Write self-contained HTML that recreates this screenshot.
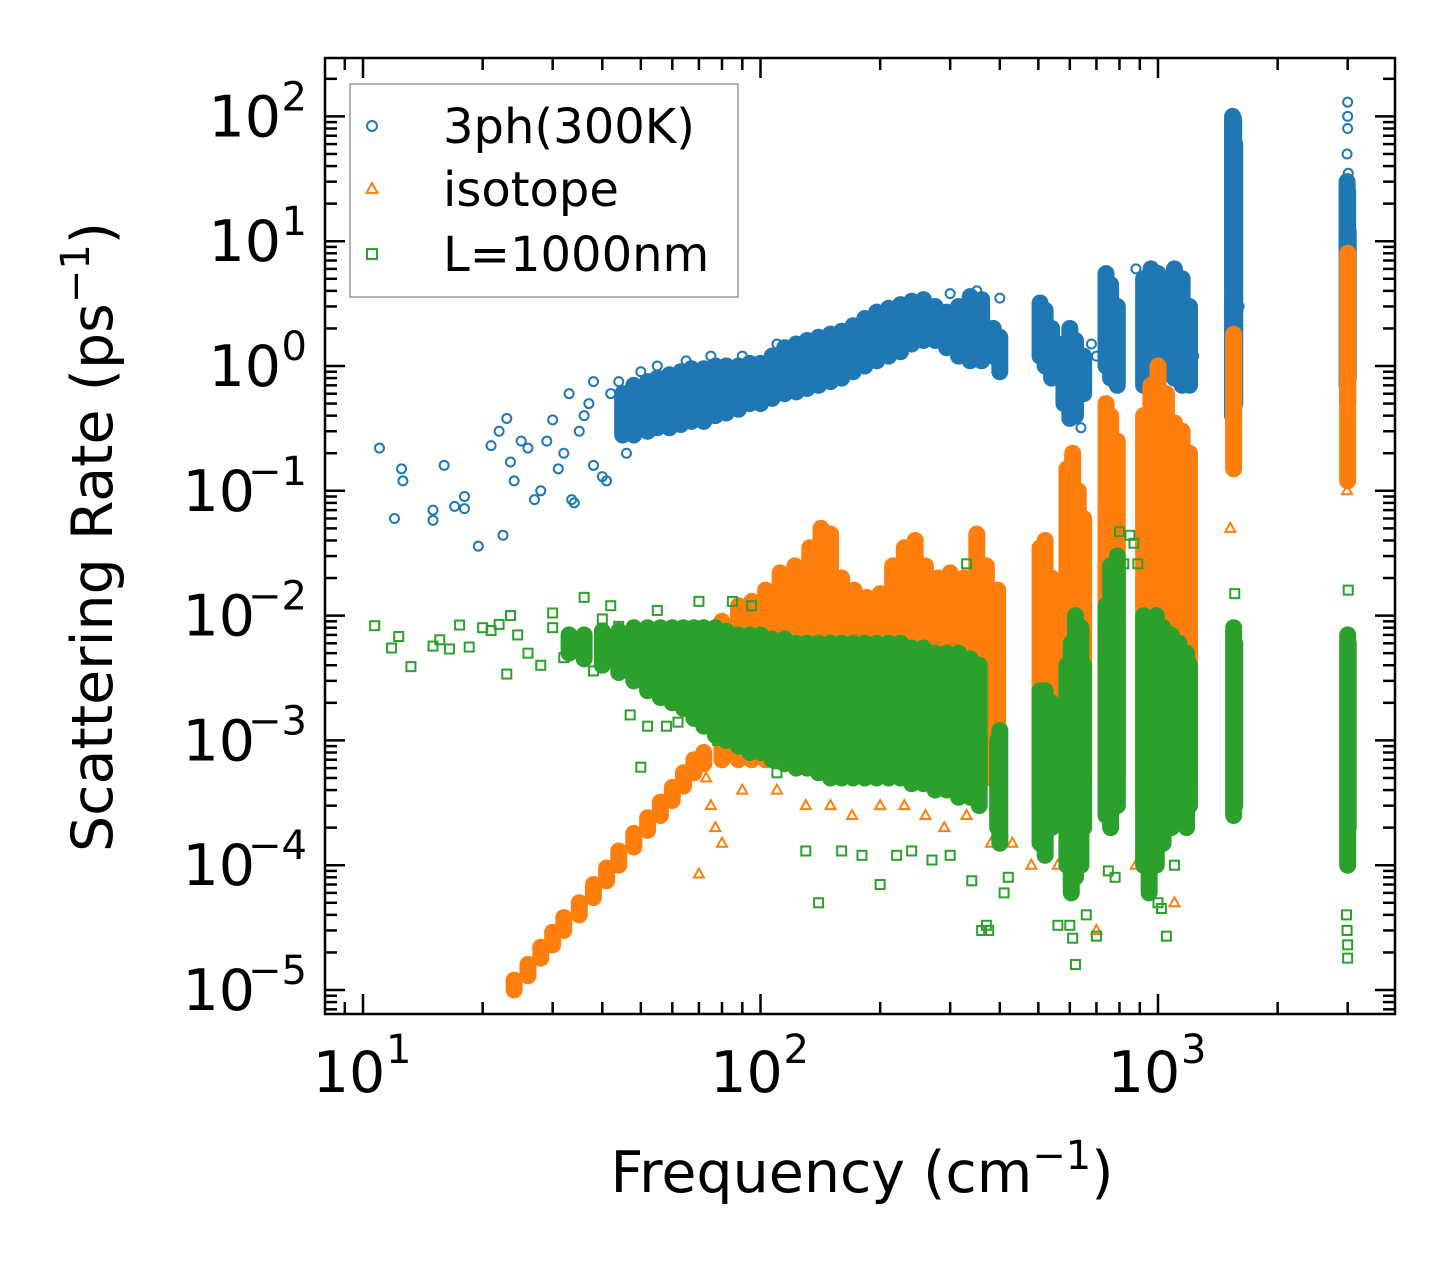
<!DOCTYPE html>
<html><head><meta charset="utf-8"><style>
body{margin:0;background:#fff}
svg text{font-family:"DejaVu Sans","Liberation Sans",sans-serif;fill:#000}
</style></head><body>
<svg id="chart" width="1455" height="1265" viewBox="0 0 1455 1265" xmlns="http://www.w3.org/2000/svg">
<g id="plot"></g>
<g id="axes"></g>
</svg>
<script>
// ---- data (frequency cm^-1, rate ps^-1) ----
const xTickLabels=["10","10","10"];
const xTickExps=["1","2","3"];
const yTickExps=["2","1","0","\u22121","\u22122","\u22123","\u22124","\u22125"];
// dense regions: freq, low rate, high rate
const blueBandF=[45,48,52,55,59,63,67,72,77,82,88,94,100,107,115,123,131,140,150,160,171,183,196,210,225,240,257,275,294,315,337,360,385,400,505,520,540,580,600,620,650,740,760,790,920,960,1000,1050,1100,1150,1200,1540,1550,1560,2990,3000,3010];
const blueBandLo=[0.28,0.28,0.3,0.32,0.32,0.34,0.36,0.36,0.4,0.42,0.45,0.5,0.5,0.55,0.6,0.62,0.66,0.7,0.75,0.8,0.9,1.0,1.1,1.2,1.3,1.5,1.6,1.6,1.4,1.2,1.1,1.1,1.2,0.9,1.2,1.0,0.8,0.5,0.38,0.4,0.6,1.0,0.8,0.7,0.7,0.6,0.7,0.9,0.8,0.7,0.7,0.4,0.35,0.5,0.7,0.5,0.8];
const blueBandHi=[0.6,0.7,0.75,0.8,0.85,0.9,0.95,0.95,1.0,1.0,1.0,1.05,1.05,1.2,1.4,1.5,1.6,1.7,1.8,1.9,2.1,2.4,2.7,2.9,3.1,3.3,3.4,3.0,2.7,3.0,3.6,3.4,2.0,1.7,3.2,2.8,2.0,1.5,2.0,1.6,1.2,5.5,4.5,3.0,5.0,6.0,5.5,4.0,6.0,5.0,3.0,100,95,60,30,25,12];
const blueF=[11,12,12.5,12.6,15,15,16,17,18,18,19.5,21,22,22.5,23,23.5,24,25,26,27,28,29,30,31,32,33,33.5,34,35,36,37,38,40,42,44,46,38,41,50,55,65,75,90,110,130,180,230,300,350,400,560,640,680,700,880,1230,1520,1600,3000,3000,3000,2990,3010];
const blueR=[0.22,0.06,0.15,0.12,0.07,0.058,0.16,0.075,0.09,0.072,0.036,0.23,0.3,0.044,0.38,0.17,0.12,0.25,0.22,0.085,0.1,0.25,0.37,0.15,0.2,0.6,0.085,0.08,0.3,0.4,0.5,0.75,0.13,0.6,0.75,0.2,0.16,0.12,0.9,1.0,1.1,1.2,1.2,1.5,1.6,2.2,3.0,3.8,4.0,3.5,1.0,0.32,1.5,1.2,6.0,1.2,3.8,3.0,130,100,80,50,35];
const orangeBandF=[24,26,28,30,32,35,38,41,44,48,52,56,60,64,68,72,80,88,95,103,112,122,133,142,150,160,172,185,200,215,230,245,260,280,300,325,350,370,395,505,520,540,590,610,630,650,740,760,790,920,960,1000,1050,1100,1150,1200,1550,3000];
const orangeBandLo=[1.0e-5,1.3e-5,1.8e-5,2.3e-5,3e-5,4e-5,5.5e-5,7.5e-5,1e-4,1.4e-4,1.9e-4,2.5e-4,3.3e-4,4.3e-4,5.5e-4,6.5e-4,7e-4,7e-4,7e-4,7e-4,7e-4,7e-4,7e-4,7e-4,7e-4,7e-4,7e-4,7e-4,7e-4,7e-4,6e-4,6e-4,6e-4,5e-4,5e-4,5e-4,5e-4,5e-4,5e-4,3e-4,3e-4,3e-4,3e-4,2e-4,3e-4,5e-4,5e-4,4e-4,5e-4,3e-4,2e-4,3e-4,3e-4,4e-4,4e-4,5e-4,0.15,0.12];
const orangeBandHi=[1.2e-5,1.6e-5,2.2e-5,2.9e-5,3.8e-5,5e-5,7e-5,9.5e-5,1.3e-4,1.8e-4,2.4e-4,3.2e-4,4.2e-4,5.5e-4,7e-4,8e-4,9e-3,1.2e-2,1.3e-2,1.6e-2,2.2e-2,2.5e-2,3.5e-2,5e-2,4.5e-2,2.0e-2,1.6e-2,1.4e-2,1.5e-2,2.5e-2,3.5e-2,4.0e-2,2.5e-2,2.0e-2,2.2e-2,2.0e-2,4.5e-2,2.5e-2,1.6e-2,3.5e-2,4e-2,2e-2,0.15,0.2,0.1,0.06,0.5,0.4,0.25,0.4,0.7,1.0,0.6,0.35,0.3,0.2,1.8,8];
const orangeF=[73,75,77,80,70,90,110,130,150,170,200,230,260,290,330,380,430,480,560,700,880,1100,1200,1520,2990,3000];
const orangeR=[5e-4,3e-4,2e-4,1.5e-4,8.5e-5,4e-4,4e-4,3e-4,3e-4,2.5e-4,3e-4,3e-4,2.5e-4,2e-4,2.5e-4,1.5e-4,1.5e-4,1e-4,1e-4,3e-5,1e-4,5e-5,1.1e-1,5e-2,1.0e-1,0.25];
const greenBandF=[33,36,40,44,48,52,56,60,64,68,72,77,82,88,94,100,107,115,123,131,140,150,160,171,183,196,210,225,240,257,275,294,315,337,355,395,400,505,520,540,590,605,620,640,650,740,760,790,920,950,990,1030,1080,1130,1180,1200,1550,1560,3000,3010];
const greenBandLo=[5e-3,4.5e-3,4e-3,3.5e-3,3e-3,2.5e-3,2.2e-3,2e-3,1.8e-3,1.5e-3,1.3e-3,1.1e-3,1e-3,9e-4,8e-4,8e-4,7e-4,6.5e-4,6e-4,6e-4,5.5e-4,5e-4,5e-4,5e-4,5e-4,5e-4,5e-4,5e-4,4.5e-4,4.5e-4,4e-4,4e-4,3.5e-4,3.5e-4,3e-4,2e-4,1.5e-4,1.5e-4,1.2e-4,2e-4,1e-4,6e-5,8e-5,1e-4,2e-4,2.5e-4,2e-4,3e-4,1e-4,6e-5,1e-4,1.5e-4,2e-4,3e-4,2e-4,3e-4,2.5e-4,3e-4,1e-4,2e-4];
const greenBandHi=[7e-3,7e-3,7.5e-3,7.5e-3,8e-3,8e-3,8e-3,8e-3,8e-3,8e-3,8e-3,8e-3,7.5e-3,7e-3,7e-3,7e-3,6.5e-3,6.5e-3,6e-3,6e-3,6e-3,6e-3,6e-3,6e-3,6e-3,6e-3,6e-3,6e-3,5.5e-3,5.5e-3,5e-3,5e-3,5e-3,4.5e-3,4e-3,1e-3,1.2e-3,2.5e-3,2.5e-3,2e-3,4e-3,6e-3,1e-2,8e-3,4e-3,1.2e-2,2.5e-2,3e-2,1e-2,8e-3,1e-2,8e-3,7e-3,6e-3,5e-3,4e-3,8e-3,6e-3,7e-3,6e-3];
const greenF=[10.7,11.8,12.3,13.2,15,15.6,16.5,17.5,18.5,20,21,22,23,23.5,24.5,26,28,30,30,32,34,36,38,40,42,44,47,50,52,55,58,62,70,78,85,95,110,130,140,160,180,200,220,240,270,300,330,340,360,370,375,410,420,560,600,610,620,660,700,780,820,850,870,890,1000,1020,1050,1100,1560,2980,2990,3000,3000,3010,750,800];
const greenR=[8.3e-3,5.5e-3,6.8e-3,3.9e-3,5.7e-3,6.4e-3,5.4e-3,8.4e-3,5.6e-3,8e-3,7.6e-3,8.5e-3,3.4e-3,1e-2,7e-3,5e-3,4e-3,1.05e-2,8e-3,4.6e-3,5.8e-3,1.4e-2,3.6e-3,9.4e-3,1.2e-2,8.2e-3,1.6e-3,6.1e-4,1.3e-3,1.1e-2,1.3e-3,1.4e-3,1.3e-2,1e-3,1.3e-2,1.2e-2,5.5e-4,1.3e-4,5e-5,1.3e-4,1.2e-4,7e-5,1.2e-4,1.3e-4,1.1e-4,1.2e-4,2.6e-2,7.5e-5,3e-5,3.3e-5,3e-5,6e-5,8e-5,3.3e-5,3.3e-5,2.6e-5,1.6e-5,4e-5,2.7e-5,8e-5,2.6e-2,4.4e-2,3.8e-2,2.6e-2,5e-5,4.5e-5,2.7e-5,1e-4,1.5e-2,4e-5,3e-5,2.3e-5,1.8e-5,1.6e-2,9e-5,4.7e-2];

// ---- axes geometry ----
const L=325,R=1395,T=58,B=1014;
const X0=363,XD=397.5; // px of 10^1, px per decade
const Y0=990,YD=124.8; // px of 10^-5
const xs=f=>X0+(Math.log10(f)-1)*XD;
const ys=v=>Y0-(Math.log10(v)+5)*YD;
const NS="http://www.w3.org/2000/svg";
const plot=document.getElementById('plot'),axes=document.getElementById('axes');
function mk(tag,attrs,parent){const e=document.createElementNS(NS,tag);for(const k in attrs)e.setAttribute(k,attrs[k]);parent.appendChild(e);return e;}
const C={b:'#1f77b4',o:'#ff7f0e',g:'#2ca02c'};
function marker(kind,x,y,col,par,s){
  s=s||1;let e;
  if(kind==='o'){e=mk('circle',{cx:x,cy:y,r:4.5*s,fill:'none',stroke:col,'stroke-width':2},par);}
  else if(kind==='^'){e=mk('polygon',{points:`${x},${y-5.5*s} ${x-5*s},${y+3.5*s} ${x+5*s},${y+3.5*s}`,fill:'none',stroke:col,'stroke-width':2},par);}
  else {e=mk('rect',{x:x-4.5*s,y:y-4.5*s,width:9*s,height:9*s,fill:'none',stroke:col,'stroke-width':2},par);}
  return e;
}
function series(name,kind,col,bf,blo,bhi,pf,pr){
  const g=mk('g',{},plot);
  
  
  for(let i=0;i<bf.length;i++){
    const x=xs(bf[i]);
    const ln=mk('line',{x1:x,x2:x,y1:ys(blo[i]),y2:ys(bhi[i]),stroke:col,'stroke-width':17,'stroke-linecap':'round'},g);
    
    
  }
  for(let i=0;i<pf.length;i++){
    const m=marker(kind,xs(pf[i]),ys(pr[i]),col,g);
    
    
  }
}
const clip=mk('clipPath',{id:'cp'},document.getElementById('chart'));
mk('rect',{x:L,y:T,width:R-L,height:B-T},clip);
plot.setAttribute('clip-path','url(#cp)');
series('3ph','o',C.b,blueBandF,blueBandLo,blueBandHi,blueF,blueR);
series('isotope','^',C.o,orangeBandF,orangeBandLo,orangeBandHi,orangeF,orangeR);
series('boundary','s',C.g,greenBandF,greenBandLo,greenBandHi,greenF,greenR);

// frame
const fr=mk('rect',{x:L,y:T,width:R-L,height:B-T,fill:'none',stroke:'#000','stroke-width':2.5},axes);


// x ticks
for(let d=0;d<=3;d++){
  for(let k=1;k<10;k++){
    const f=Math.pow(10,d)*k; if(f<8||f>4300)continue;
    const x=xs(f); if(x<L||x>R)continue;
    const len=k===1?20:12;
    mk('line',{x1:x,x2:x,y1:B,y2:B-len,stroke:'#000','stroke-width':2.5},axes);
    mk('line',{x1:x,x2:x,y1:T,y2:T+len,stroke:'#000','stroke-width':2.5},axes);
  }
}
for(let i=0;i<xTickLabels.length;i++){
  const x=xs(Math.pow(10,i+1));
  const t=mk('text',{x:x-14,y:1092,'font-size':57,'text-anchor':'middle'},axes);
  t.textContent=xTickLabels[i];
  
  
  const s=mk('text',{x:x+23,y:1063,'font-size':40},axes);s.textContent=xTickExps[i];
}
// y ticks
for(let d=-6;d<=2;d++){
  for(let k=1;k<10;k++){
    const v=Math.pow(10,d)*k; const y=ys(v); if(y<T||y>B)continue;
    const len=k===1?20:12;
    mk('line',{x1:L,x2:L+len,y1:y,y2:y,stroke:'#000','stroke-width':2.5},axes);
    mk('line',{x1:R,x2:R-len,y1:y,y2:y,stroke:'#000','stroke-width':2.5},axes);
  }
}
for(let i=0;i<yTickExps.length;i++){
  const y=ys(Math.pow(10,2-i));
  const ex=yTickExps[i];
  const s=mk('text',{x:307,y:y-6,'font-size':40,'text-anchor':'end'},axes);s.textContent=ex;
  const ew=ex.length>1?52:26;
  const t=mk('text',{x:307-ew,y:y+20,'font-size':57,'text-anchor':'end'},axes);
  t.textContent='10';
  
  
}
// axis titles
const xt=mk('text',{x:862,y:1192,'font-size':57,'text-anchor':'middle'},axes);
xt.innerHTML='Frequency (cm<tspan font-size="40" dy="-23">\u22121</tspan><tspan dy="23">)</tspan>';


const yt=mk('text',{x:0,y:0,'font-size':57,'text-anchor':'middle',transform:'translate(112,537) rotate(-90)'},axes);
yt.innerHTML='Scattering Rate (ps<tspan font-size="40" dy="-23">\u22121</tspan><tspan dy="23">)</tspan>';


// legend
const lg=mk('g',{},axes);


mk('rect',{x:350,y:84,width:388,height:213,fill:'#fff','fill-opacity':0.8,stroke:'#999','stroke-width':1.5},lg);
const ents=[['o',C.b,'3ph(300K)',126],['^',C.o,'isotope',189],['s',C.g,'L=1000nm',254]];
for(const e of ents){
  const g=mk('g',{},lg);
  
  
  marker(e[0],372,e[3],e[1],g,1.1);
  const t=mk('text',{x:443,y:e[3]+17,'font-size':48},g);t.textContent=e[2];
}
</script>
</body></html>
